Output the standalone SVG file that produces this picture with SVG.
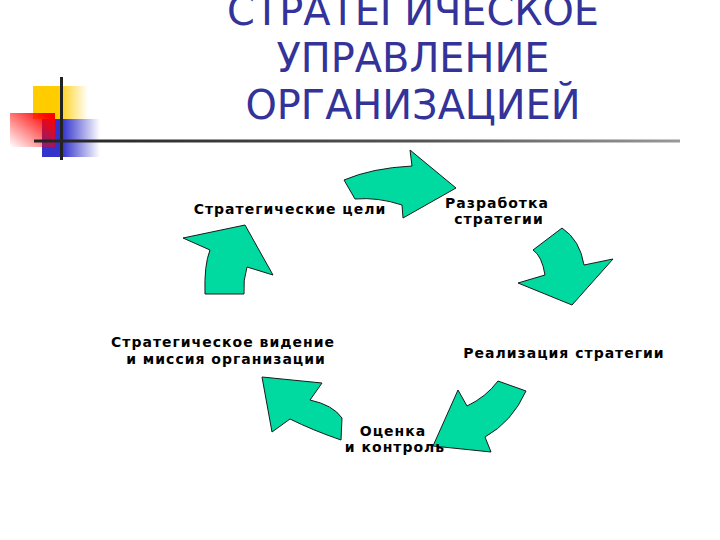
<svg xmlns="http://www.w3.org/2000/svg" width="720" height="540" viewBox="0 0 720 540">
<defs>
<linearGradient id="gy" x1="0" y1="0" x2="1" y2="0"><stop offset="0.45" stop-color="#FFCC00"/><stop offset="1" stop-color="#FFCC00" stop-opacity="0"/></linearGradient>
<linearGradient id="gb" x1="0" y1="0" x2="1" y2="0"><stop offset="0.35" stop-color="#3333CC"/><stop offset="1" stop-color="#3333CC" stop-opacity="0"/></linearGradient>
<linearGradient id="gr" x1="1" y1="0" x2="0" y2="1"><stop offset="0.1" stop-color="#FF0000"/><stop offset="1" stop-color="#FF0000" stop-opacity="0"/></linearGradient>
<linearGradient id="gl" x1="0" y1="0" x2="1" y2="0"><stop offset="0" stop-color="#222222"/><stop offset="0.6" stop-color="#555555"/><stop offset="1" stop-color="#999999"/></linearGradient>
<style>
.t{font-family:"DejaVu Sans","Liberation Sans",sans-serif;font-size:41px;fill:#333399;text-anchor:middle;font-stretch:condensed}
.l{font-family:"DejaVu Sans","Liberation Sans",sans-serif;font-size:14px;font-weight:bold;fill:#000;text-anchor:middle;letter-spacing:1px}
.a{fill:#00D9A0;stroke:#1a1a1a;stroke-width:1;stroke-linejoin:miter}
</style>
</defs>
<g id="decor">
<rect x="33" y="86" width="55" height="33" fill="url(#gy)"/>
<rect x="42" y="119" width="58" height="38" fill="url(#gb)"/>
<rect x="10" y="113" width="45" height="34" fill="url(#gr)"/>
<rect x="60" y="77" width="3" height="83" fill="#222"/>
<rect x="34" y="139.5" width="646" height="3" fill="url(#gl)"/>
</g>
<g id="title" transform="translate(413,0) scale(1.08,1)">
<text class="t" x="0" y="25">СТРАТЕГИЧЕСКОЕ</text>
<text class="t" x="0" y="72">УПРАВЛЕНИЕ</text>
<text class="t" x="0" y="119">ОРГАНИЗАЦИЕЙ</text>
</g>
<g id="connectors">
<path class="a" d="M344,180 Q372,168 412,166 L410,150 L456,188 L403,218 L402,205 Q378,197 355,199 Z"/>
<path class="a" d="M533,250 L562,228 Q580,240 584,265 L613,259 L572,305 L518,283 L545,275 Q542,256 533,250 Z"/>
<path class="a" d="M498,381 L526,391 Q512,422 485,437 L491,452 L433,446 L458,390 L467,406 Q486,397 498,381 Z"/>
<path class="a" d="M262,377 L322,383 L310,400 Q333,405 342,418 L341,440 Q312,430 290,419 L272,432 Z"/>
<path class="a" d="M245,225 L273,275 L247,267 Q243,280 244,294 L205,294 Q204,265 210,250 L183,238 Z"/>
</g>
<g id="n1"><text class="l" x="290" y="214">Стратегические цели</text></g>
<g id="n2"><text class="l" x="497" y="208">Разработка</text><text class="l" x="499" y="224">стратегии</text></g>
<g id="n3"><text class="l" x="564" y="358">Реализация стратегии</text></g>
<g id="n4"><text class="l" x="393" y="436">Оценка</text><text class="l" x="395" y="452">и контроль</text></g>
<g id="n5"><text class="l" x="223" y="347">Стратегическое видение</text><text class="l" x="226" y="364">и миссия организации</text></g>
</svg>
